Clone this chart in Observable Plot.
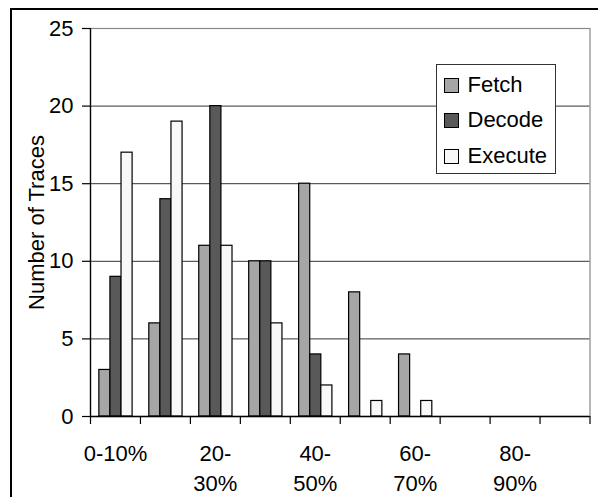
<!DOCTYPE html>
<html>
<head>
<meta charset="utf-8">
<script src="https://cdn.jsdelivr.net/npm/d3@7"></script>
<script src="https://cdn.jsdelivr.net/npm/@observablehq/plot@0.6"></script>
<style>
  html, body { margin: 0; padding: 0; background: #fff; overflow: hidden; }
  body { width: 598px; height: 497px; position: relative; font-family: "Liberation Sans", Arial, sans-serif; }
  #chart { position: absolute; left: 0; top: 0; }
  #outer { position: absolute; left: 10px; top: 8px; width: 700px; height: 600px; border-left: 2px solid #000; border-top: 2px solid #000; pointer-events: none; }
  #legend { position: absolute; left: 435.5px; top: 63.5px; width: 118px; height: 108px; border: 1px solid #333; background: #fff; }
  .row { position: absolute; left: 0; height: 24px; line-height: 24px; font-size: 22px; color: #000; white-space: nowrap; }
  .sw { position: absolute; left: 7px; top: 5px; width: 13px; height: 13px; border: 1px solid #000; box-sizing: content-box; }
  .lbl { position: absolute; left: 31px; top: 0; }
</style>
</head>
<body>
<div id="chart"></div>
<div id="outer"></div>
<div id="legend"></div>
<script>
const categories = ["0-10%", "10-20%", "20-30%", "30-40%", "40-50%", "50-60%", "60-70%", "70-80%", "80-90%", "90-100%"];
const tickLabels = ["0-10%", "", "20-\n30%", "", "40-\n50%", "", "60-\n70%", "", "80-\n90%", ""];
const series = ["Fetch", "Decode", "Execute"];
const fetchValues = [3, 6, 11, 10, 15, 8, 4, 0, 0, 0];
const decodeValues = [9, 14, 20, 10, 4, 0, 0, 0, 0, 0];
const executeValues = [17, 19, 11, 6, 2, 1, 1, 0, 0, 0];
const colors = ["#a6a6a6", "#595959", "#f8f8f8"];
const yTicks = [0, 5, 10, 15, 20, 25];

const seriesValues = [fetchValues, decodeValues, executeValues];
const rows = [];
series.forEach((s, si) => {
  categories.forEach((c, ci) => {
    rows.push({category: c, series: s, value: seriesValues[si][ci]});
  });
});

const width = 598, height = 497;
const marginLeft = 90, marginRight = 8.5, marginTop = 28, marginBottom = 81;
const step = (width - marginLeft - marginRight) / categories.length;
const groupStart = 0.177 * step;
const barW = 0.222 * step;

const barMarks = series.map((s, si) => Plot.barY(rows.filter(d => d.series === s && d.value > 0), {
  x: "category",
  y: "value",
  fill: "series",
  stroke: "#000",
  strokeWidth: 1.2,
  insetLeft: groupStart + si * barW,
  insetRight: step - groupStart - (si + 1) * barW
}));

const chart = Plot.plot({
  width, height, marginLeft, marginRight, marginTop, marginBottom,
  style: {fontFamily: "'Liberation Sans', Arial, sans-serif", background: "transparent", overflow: "visible"},
  x: {type: "band", domain: categories, padding: 0, round: false},
  y: {domain: [0, 25]},
  color: {domain: series, range: colors},
  marks: [
    Plot.gridY(yTicks.filter(t => t > 0 && t < 25), {stroke: "#333", strokeOpacity: 1, strokeWidth: 1}),
    Plot.frame({stroke: "#888", strokeWidth: 1.2}),
    ...barMarks,
    Plot.ruleY([0], {stroke: "#000", strokeWidth: 1.3}),
    Plot.ruleX([categories[0]], {dx: -step / 2, stroke: "#000", strokeWidth: 1.3}),
    Plot.axisY({
      ticks: yTicks, tickSize: 8, tickPadding: 9, fontSize: 22, stroke: "#000", strokeWidth: 1.2,
      label: "Number of Traces", labelAnchor: "center", labelOffset: 62, labelArrow: "none"
    }),
    Plot.axisX({ticks: categories, tickSize: 8, tickFormat: () => "", dx: -step / 2, stroke: "#000", strokeWidth: 1.2, label: null}),
    Plot.axisX({ticks: [categories[categories.length - 1]], tickSize: 8, tickFormat: () => "", dx: step / 2, stroke: "#000", strokeWidth: 1.2, label: null}),
    Plot.axisX({
      ticks: categories, tickSize: 0, tickPadding: 23, fontSize: 22, lineHeight: 1.36,
      tickFormat: d => tickLabels[categories.indexOf(d)], label: null
    })
  ]
});
document.getElementById("chart").appendChild(chart);

const legend = document.getElementById("legend");
series.forEach((s, i) => {
  const row = document.createElement("div");
  row.className = "row";
  row.style.top = (8 + i * 35.5) + "px";
  const sw = document.createElement("div");
  sw.className = "sw";
  sw.style.background = colors[i];
  const lbl = document.createElement("span");
  lbl.className = "lbl";
  lbl.textContent = s;
  row.appendChild(sw);
  row.appendChild(lbl);
  legend.appendChild(row);
});
</script>
</body>
</html>
